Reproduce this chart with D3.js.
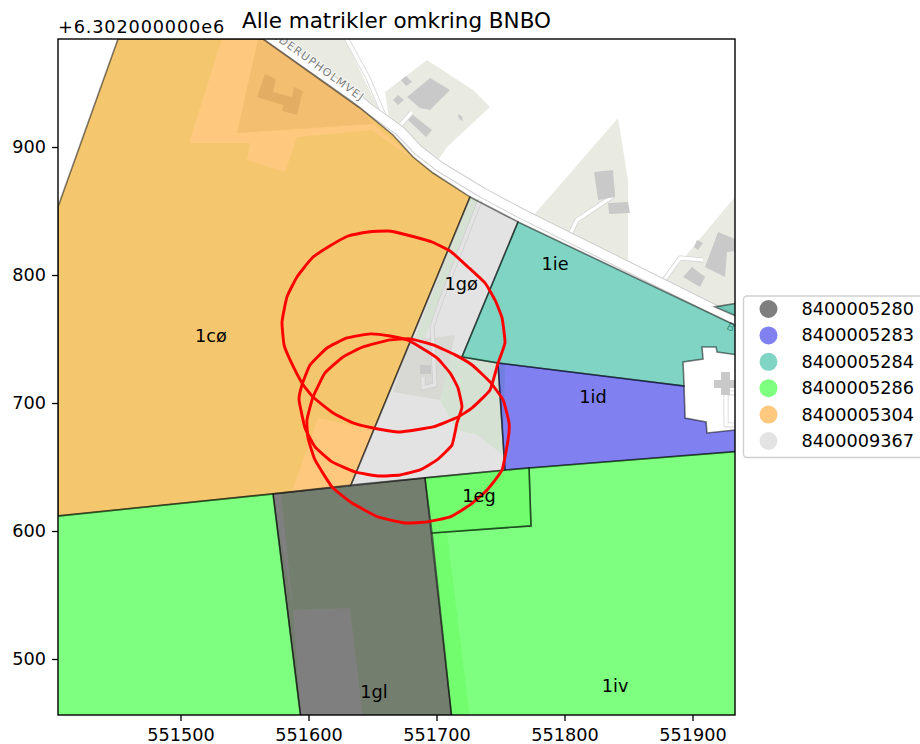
<!DOCTYPE html>
<html>
<head>
<meta charset="utf-8">
<script src="https://cdn.jsdelivr.net/npm/d3@7"></script>
<style>
  body { margin: 0; background: #fff; }
  text { font-family: "DejaVu Sans", sans-serif; }
</style>
</head>
<body>
<script>
// y values are given relative to the axis offset, +6.302e6
const title = 'Alle matrikler omkring BNBO';
const offsetLabel = '+6.302000000e6';
const xTicks = [551500, 551600, 551700, 551800, 551900];
const yTicks = [500, 600, 700, 800, 900];
const xDomain = [551404.3, 551933.2];
const yDomain = [456.25, 984.4];

// legend
const matrikelIds = ['8400005280', '8400005283', '8400005284', '8400005286', '8400005304', '8400009367'];

// parcels, [x, y]
const parcel5304 = [[551451.2,984.4],[551564.5,984.4],[551640.3,930.5],[551666,909.4],[551681.7,892.2],[551697.3,879.7],[551726.2,861],[551633.2,636],[551572.3,629],[551404.3,611.8],[551404.3,853.2]];
const parcel9367 = [[551726.2,861],[551763.7,841.5],[551719.9,736],[551748,731.3],[551753.5,647.7],[551691,641.5],[551633.2,636]];
const parcel5284a = [[551763.7,841.5],[551941,757.1],[551941,736.8],[551919.2,739.9],[551918.4,743.8],[551907.4,743.8],[551908.2,734.4],[551892.6,732.1],[551893.4,713.3],[551748,731.3],[551719.9,736]];
const parcel5284b = [[551917.6,775.1],[551941,779],[551941,764.9]];
const parcel5283 = [[551748,731.3],[551893.4,713.3],[551894.2,688.3],[551910.6,685.2],[551911.3,676.6],[551941,679.7],[551941,662.6],[551753.5,647.7]];
const parcel5280 = [[551572.3,629],[551691,641.5],[551712.1,452.4],[551594.2,452.4]];
const parcel5286a = [[551390.2,610.2],[551572.3,629],[551594.2,452.4],[551390.2,452.4]];
const parcel5286b = [[551696.5,598.5],[551773.8,604],[551772.3,649.3],[551941,662.6],[551941,452.4],[551712.1,452.4]];
const parcel5286c = [[551691,641.5],[551772.3,649.3],[551773.8,604],[551696.5,598.5]];

const parcelLabels = ['1cø', '1gø', '1ie', '1id', '1eg', '1gl', '1iv'];
const labelX = [551523.8, 551719.2, 551792.6, 551822.3, 551733.2, 551651.2, 551839.5];
const labelY = [752.4, 793, 808.6, 704.7, 627.4, 474.3, 479];

// BNBO outlines
const bnboA = [[551662.1,834.4],[551667.6,833.6],[551683.2,829.7],[551696.5,825.8],[551710.6,818.8],[551724.6,806.3],[551737.9,793.8],[551745.7,780.5],[551751.2,766.5],[551753.5,746.9],[551748.1,731.3],[551741.8,710.2],[551727.8,696.2],[551716.8,689.1],[551697.3,681.3],[551671.5,677.4],[551650.4,680.5],[551634.8,684.4],[551619.2,692.2],[551603.5,704.7],[551594.9,715.7],[551585.6,733.7],[551580.9,745.4],[551579.3,763.3],[551583.2,782.9],[551591,798.5],[551602.8,813.3],[551615.3,821.9],[551630.9,830.5],[551646.5,833.6]];
const bnboB = [[551648.1,754],[551663.7,752.4],[551677,749.3],[551687.1,743.8],[551700.4,735.2],[551710.6,723.5],[551716.8,711.8],[551719.9,696.9],[551716,684.4],[551712.1,667.2],[551700.4,655.5],[551687.1,647.7],[551671.5,643.8],[551654.3,643],[551636.3,646.2],[551618.4,654],[551605.1,665.7],[551597.3,680.5],[551592.6,702.4],[551594.9,714.1],[551601.2,729.7],[551614.5,743],[551630.1,750.8]];
const bnboC = [[551679.3,750.1],[551697.3,745.4],[551714.5,737.6],[551727.8,729.7],[551741.8,716.5],[551752,702.4],[551756.7,684.4],[551755.9,671.1],[551751.2,647.7],[551739.5,632.1],[551726.2,620.4],[551710.6,611],[551692.6,607.1],[551675.4,606.3],[551654.3,611],[551634,621.9],[551618.4,634.4],[551605.1,655.5],[551599.6,672.7],[551598.8,686.8],[551603.5,704.7],[551612.9,723.5],[551627,736],[551642.6,743.8],[551663.7,749.3]];

// basemap: land use
const fieldAreas = [parcel5304, parcel5280];
const clearAreas = [
  [[551532.4,984.4],[551560.6,984.4],[551544.2,911],[551650.4,918],[551683.2,889.9],[551649.6,913.3],[551591,907.9],[551581.7,880.5],[551552,889.9],[551554.3,903.2],[551506.7,903.2]],
  [[551607.4,688.3],[551651.2,679],[551633.2,636],[551587.1,630.5]],
  [[551587.9,538.3],[551632.4,539.9],[551642.6,452.4],[551594.2,452.4]],
  [[551572.3,629],[551578.5,629],[551587.9,538.3]]
];
const meadowAreas = [
  parcel5286c,
  [[551696.5,598.5],[551708.2,598.5],[551726.2,452.4],[551712.1,452.4]],
  [[551680.9,745.4],[551753.5,731.3],[551752,659.4],[551731.7,675.1],[551716,679],[551702.8,702.4],[551666,708.6]],
  [[551726.2,861],[551735,857],[551690,749],[551680.9,745.4]]
];
const residentialAreas = [
  [[551560.6,984.4],[551564.5,984.4],[551640.3,930.5],[551650.4,918],[551544.2,911]],
  [[551567.6,984.4],[551628.5,984.4],[551658.2,922.7],[551640.3,932.1]],
  [[551659.8,943],[551692.6,968],[551728.5,944.6],[551741.8,931.3],[551708.2,900.1],[551701.2,889.9],[551663.7,915.7]],
  [[551841.8,922.7],[551849.6,874.3],[551849.6,805.5],[551775.4,846.1]],
  [[551941,870.4],[551877,793.8],[551941,757.1]],
  [[551679.3,749.3],[551714.5,753.2],[551702.8,702.4],[551666,708.6]]
];
const buildings = [
  [[551677,939.1],[551695,954],[551710.6,944.6],[551695,929],[551687.1,930.5]],
  [[551676.2,955.5],[551680.9,950.8],[551676.2,947.7],[551672.3,952.4]],
  [[551669.9,940.7],[551674.6,936.8],[551669.9,932.9],[551666,936.8]],
  [[551677.8,921.2],[551681.7,925],[551696.5,913.3],[551691.8,907.9]],
  [[551716.8,925.8],[551719.9,924.3],[551720.7,920.4],[551717.6,921.9]],
  [[551823.1,880.5],[551837.9,882.1],[551839.5,861],[551826.2,858.6]],
  [[551834,856.3],[551849.6,857.1],[551851.2,848.5],[551834.8,847.7]],
  [[551919.9,833.6],[551941,825],[551941,819.6],[551927,818],[551925.4,798.5],[551909.8,806.3]],
  [[551899.6,806.3],[551909.8,798.5],[551905.9,790.7],[551892.6,798.5]],
  [[551903.5,827.4],[551908.2,825],[551904.3,819.6],[551901.2,821.9]],
  [[551566,957.1],[551574.6,953.2],[551572.3,943],[551587.1,939.1],[551588.7,946.9],[551595.7,943.8],[551591,925],[551579.3,928.2],[551580.1,932.9],[551559.8,939.1]],
  [[551687.1,729.7],[551695.7,729.7],[551695.7,722.7],[551687.1,722.7]],
  [[551922.3,724.3],[551929.3,724.3],[551929.3,718],[551941,718],[551941,711.8],[551929.3,711.8],[551929.3,706.3],[551922.3,706.3],[551922.3,711.8],[551916.8,711.8],[551916.8,718],[551922.3,718]]
];
const mainRoad = [[551563.7,989.9],[551636.3,939.1],[551646.5,930.5],[551671.5,912.6],[551685.6,897.7],[551702.8,884.4],[551736.3,864.1],[551765.3,848.5],[551941,761]];
const driveways = [
  [[551628.5,986.8],[551646.5,954],[551659.8,922.7]],
  [[551669.9,914.9],[551680.9,927.4]],
  [[551802.8,828.9],[551809.8,843],[551837.1,861],[551837.9,871.9]],
  [[551876.2,793.8],[551890.3,813.3],[551908.2,811.8]],
  [[551734,858.6],[551702.8,778.2],[551696.5,759.4],[551698.8,714.1],[551689.5,711.8],[551689.5,720.4]],
  [[551941,707.9],[551926.2,707.9],[551926.2,682.9],[551941,682.9]]
];

const width = 920;
const height = 744;
const plot = { left: 58, right: 735, top: 39, bottom: 715 };

const x = d3.scaleLinear().domain(xDomain).range([plot.left, plot.right]);
const y = d3.scaleLinear().domain(yDomain).range([plot.bottom, plot.top]);

const outline = d3.line().x(d => x(d[0])).y(d => y(d[1]));
const closed = pts => outline(pts) + 'Z';
const ring = d3.line().x(d => x(d[0])).y(d => y(d[1])).curve(d3.curveCardinalClosed.tension(0.6));

const svg = d3.select('body').append('svg')
  .attr('width', width)
  .attr('height', height)
  .style('display', 'block');

svg.append('clipPath').attr('id', 'plot-clip')
  .append('rect')
  .attr('x', plot.left).attr('y', plot.top)
  .attr('width', plot.right - plot.left)
  .attr('height', plot.bottom - plot.top);

const map = svg.append('g').attr('clip-path', 'url(#plot-clip)');

// basemap first, parcels are drawn half transparent on top of it
function areas(list, fill) {
  map.append('g').selectAll('path').data(list).join('path')
    .attr('d', closed)
    .attr('fill', fill);
}

function lines(list, stroke, w) {
  map.append('g').selectAll('path').data(list).join('path')
    .attr('d', outline)
    .attr('fill', 'none')
    .attr('stroke', stroke)
    .attr('stroke-width', w)
    .attr('stroke-linejoin', 'round');
}

areas(fieldAreas, '#e9fddc');
areas(clearAreas, '#ffffff');
areas(meadowAreas, '#e2fbdc');
areas(residentialAreas, '#e9ebe3');
lines(driveways, '#d4d4d4', 5);
lines(driveways, '#ffffff', 3.4);
lines([mainRoad], '#cfcfcf', 11);
lines([mainRoad], '#ffffff', 9);
areas(buildings, '#c9c9c9');

// road names on the basemap
function roadName(text, px, py, angle, anchor, size) {
  map.append('text')
    .attr('transform', `translate(${x(px)},${y(py)}) rotate(${angle})`)
    .attr('text-anchor', anchor)
    .attr('font-size', size)
    .attr('letter-spacing', 1.2)
    .attr('fill', '#7c7c7c')
    .attr('stroke', '#ffffff')
    .attr('stroke-width', 1.5)
    .attr('paint-order', 'stroke')
    .text(text);
}
roadName('HEDERUPHOLMVEJ', 551641, 935.5, 36, 'end', 11);
roadName('B', 551926, 758, 27, 'start', 11);

// parcels
const parcelColor = d3.scaleOrdinal()
  .domain(matrikelIds)
  .range(['#000000', '#0101e1', '#00a989', '#00ff00', '#ff9100', '#c8c8c8']);

const parcelIds = ['8400005304', '8400009367', '8400005284', '8400005284', '8400005283', '8400005286', '8400005286', '8400005286', '8400005280'];
const parcelShapes = [parcel5304, parcel9367, parcel5284a, parcel5284b, parcel5283, parcel5286a, parcel5286b, parcel5286c, parcel5280];

map.append('g').selectAll('path').data(parcelShapes).join('path')
  .attr('d', closed)
  .attr('fill', (d, i) => parcelColor(parcelIds[i]))
  .attr('fill-opacity', 0.5)
  .attr('stroke', '#000')
  .attr('stroke-opacity', 0.5)
  .attr('stroke-width', 1.6);

map.append('g').selectAll('path').data([bnboA, bnboB, bnboC]).join('path')
  .attr('d', ring)
  .attr('fill', 'none')
  .attr('stroke', '#ff0000')
  .attr('stroke-width', 2.9)
  .attr('stroke-linejoin', 'round');

map.append('g').selectAll('text').data(parcelLabels).join('text')
  .attr('x', (d, i) => x(labelX[i]))
  .attr('y', (d, i) => y(labelY[i]))
  .attr('text-anchor', 'middle')
  .attr('dominant-baseline', 'central')
  .attr('font-size', 17.7)
  .attr('fill', '#000')
  .text(d => d);

// axes
const xAxis = svg.append('g')
  .attr('transform', `translate(0,${plot.bottom})`)
  .call(d3.axisBottom(x).tickValues(xTicks).tickFormat(d3.format('d')).tickSize(6).tickPadding(7).tickSizeOuter(0));
const yAxis = svg.append('g')
  .attr('transform', `translate(${plot.left},0)`)
  .call(d3.axisLeft(y).tickValues(yTicks).tickFormat(d3.format('d')).tickSize(6).tickPadding(6).tickSizeOuter(0));

[xAxis, yAxis].forEach(a => {
  a.selectAll('.domain').remove();
  a.selectAll('line').attr('stroke', '#000').attr('stroke-width', 1.3);
  a.selectAll('text')
    .attr('fill', '#000')
    .attr('font-size', 17.7)
    .style('font-family', '"DejaVu Sans", sans-serif');
});

svg.append('rect')
  .attr('x', plot.left).attr('y', plot.top)
  .attr('width', plot.right - plot.left)
  .attr('height', plot.bottom - plot.top)
  .attr('fill', 'none')
  .attr('stroke', '#000')
  .attr('stroke-width', 1.4);

svg.append('text')
  .attr('x', (plot.left + plot.right) / 2)
  .attr('y', 27.5)
  .attr('text-anchor', 'middle')
  .attr('font-size', 21.5)
  .attr('fill', '#000')
  .text(title);

svg.append('text')
  .attr('x', plot.left)
  .attr('y', 33)
  .attr('font-size', 17.7)
  .attr('letter-spacing', 0.85)
  .attr('fill', '#000')
  .text(offsetLabel);

// legend runs off the right side of the picture
const legend = svg.append('g').attr('transform', 'translate(743.5,296)');

legend.append('rect')
  .attr('width', 190)
  .attr('height', 161.5)
  .attr('rx', 3.5)
  .attr('fill', '#fff')
  .attr('stroke', '#cfcfcf')
  .attr('stroke-width', 1.4);

const legendRow = d3.scalePoint().domain(matrikelIds).range([13, 145]);

const rows = legend.selectAll('g').data(matrikelIds).join('g')
  .attr('transform', d => `translate(0,${legendRow(d)})`);

rows.append('circle')
  .attr('cx', 25)
  .attr('r', 9)
  .attr('fill', d => parcelColor(d))
  .attr('fill-opacity', 0.5);

rows.append('text')
  .attr('x', 58)
  .attr('dominant-baseline', 'central')
  .attr('font-size', 17.7)
  .attr('fill', '#000')
  .text(d => d);
</script>
</body>
</html>
